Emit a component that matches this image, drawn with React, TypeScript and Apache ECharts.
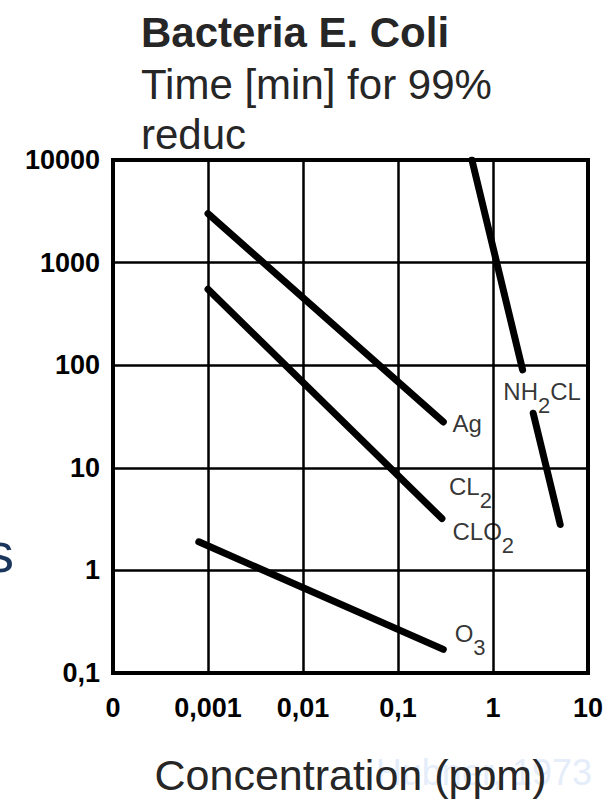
import React, { useEffect, useRef } from 'react';
import * as echarts from 'echarts';

// Tick values and their printed labels (decimal comma as in the source)
const xTickValues = [0.0001, 0.001, 0.01, 0.1, 1, 10];
const xTickLabels = ['0', '0,001', '0,01', '0,1', '1', '10'];
const yTickValues = [0.1, 1, 10, 100, 1000, 10000];
const yTickLabels = ['0,1', '1', '10', '100', '1000', '10000'];

// Disinfectant curves: [concentration ppm, time min]
const agLine = [[0.001, 3000], [0.3, 28]];
const clo2Line = [[0.001, 550], [0.29, 3.2]];
const o3Line = [[0.0008, 1.9], [0.3, 0.17]];
const nh2clUpper = [[0.6, 10000], [2.05, 90]];
const nh2clLower = [[2.65, 34], [5.1, 2.8]];

// Curve labels and where they sit (data coordinates of the label's left/middle)
const curveLabels = ['Ag', 'CL2', 'CLO2', 'O3', 'NH2CL'];
const labelAnchors = [[0.37, 27], [0.34, 6.5], [0.37, 2.4], [0.39, 0.24], [1.27, 55]];

const FONT = '"Liberation Sans", Arial, Helvetica, sans-serif';

function toRich(name: string): string {
  const parts = name.match(/[A-Za-z]+|\d+/g) || [];
  return parts.map((p) => (/^\d+$/.test(p) ? `{s|${p}}` : `{m|${p}}`)).join('');
}

function lookup(values: number[], labels: string[], v: number): string {
  const lv = Math.round(Math.log10(v));
  for (let i = 0; i < values.length; i++) {
    if (Math.round(Math.log10(values[i])) === lv) return labels[i];
  }
  return '';
}

export default function App() {
  const ref = useRef<HTMLDivElement>(null);

  useEffect(() => {
    if (!ref.current) return;
    const chart = echarts.init(ref.current, null, { renderer: 'svg' });

    const lineSeries = (name: string, data: number[][]) => ({
      name,
      type: 'line',
      data,
      showSymbol: false,
      symbol: 'none',
      silent: true,
      lineStyle: { color: '#000', width: 7, cap: 'round' },
      z: 5,
    });

    const option: any = {
      animation: false,
      backgroundColor: '#fff',
      title: {
        text: 'Bacteria E. Coli',
        subtext: 'Time [min] for 99%\nreduc',
        left: 136,
        top: 6,
        itemGap: 6,
        textStyle: { fontFamily: FONT, fontSize: 42, fontWeight: 'bold', color: '#262626' },
        subtextStyle: { fontFamily: FONT, fontSize: 42, color: '#262626', lineHeight: 50 },
      },
      grid: {
        left: 113,
        top: 160,
        right: 25,
        bottom: 131,
        show: true,
        borderColor: '#000',
        borderWidth: 4,
        backgroundColor: '#fff',
        containLabel: false,
        outerBoundsMode: 'none',
      },
      xAxis: {
        type: 'log',
        logBase: 10,
        min: xTickValues[0],
        max: xTickValues[xTickValues.length - 1],
        axisLine: { show: true, lineStyle: { color: '#000', width: 4 } },
        axisTick: { show: false },
        splitLine: { show: true, lineStyle: { color: '#000', width: 2.5 } },
        axisLabel: {
          formatter: (v: number) => lookup(xTickValues, xTickLabels, v),
          fontFamily: FONT,
          fontSize: 27,
          fontWeight: 'bold',
          color: '#000',
          margin: 21,
        },
        name: 'Concentration (ppm)',
        nameLocation: 'middle',
        nameGap: 80,
        nameTextStyle: { fontFamily: FONT, fontSize: 43, color: '#262626' },
      },
      yAxis: {
        type: 'log',
        logBase: 10,
        min: yTickValues[0],
        max: yTickValues[yTickValues.length - 1],
        axisLine: { show: true, lineStyle: { color: '#000', width: 4 } },
        axisTick: { show: false },
        splitLine: { show: true, lineStyle: { color: '#000', width: 2.5 } },
        axisLabel: {
          formatter: (v: number) => lookup(yTickValues, yTickLabels, v),
          fontFamily: FONT,
          fontSize: 27,
          fontWeight: 'bold',
          color: '#000',
          margin: 13,
        },
      },
      series: [
        lineSeries('Ag', agLine),
        lineSeries('CLO2', clo2Line),
        lineSeries('O3', o3Line),
        lineSeries('NH2CL', nh2clUpper),
        lineSeries('NH2CL (lower)', nh2clLower),
        {
          name: 'labels',
          type: 'scatter',
          silent: true,
          symbolSize: 1,
          itemStyle: { color: 'rgba(0,0,0,0)' },
          data: labelAnchors,
          z: 6,
          label: {
            show: true,
            position: 'right',
            distance: 0,
            offset: [0, 7],
            formatter: (p: any) => toRich(curveLabels[p.dataIndex]),
            rich: {
              m: { fontFamily: FONT, fontSize: 24, lineHeight: 24, color: '#000', padding: [0, 0, 14, 0] },
              s: { fontFamily: FONT, fontSize: 22, lineHeight: 24, color: '#000', padding: [14, 0, 0, 0] },
            },
          },
        },
      ],
      graphic: [
        {
          type: 'text',
          z: -10,
          x: 592,
          y: 790,
          silent: true,
          style: {
            text: 'Hubner, 1973',
            fontFamily: FONT,
            fontSize: 36,
            fill: '#e4edf9',
            textAlign: 'right',
            textVerticalAlign: 'bottom',
          },
        },
        {
          type: 'text',
          x: 14,
          y: 580,
          silent: true,
          style: {
            text: 's',
            fontFamily: FONT,
            fontSize: 56,
            fill: '#1b365d',
            textAlign: 'right',
            textVerticalAlign: 'bottom',
          },
        },
      ],
    };

    chart.setOption(option);
    return () => chart.dispose();
  }, []);

  return (
    <div
      ref={ref}
      style={{ position: 'absolute', left: 0, top: 0, width: 613, height: 804, background: '#fff' }}
    />
  );
}
